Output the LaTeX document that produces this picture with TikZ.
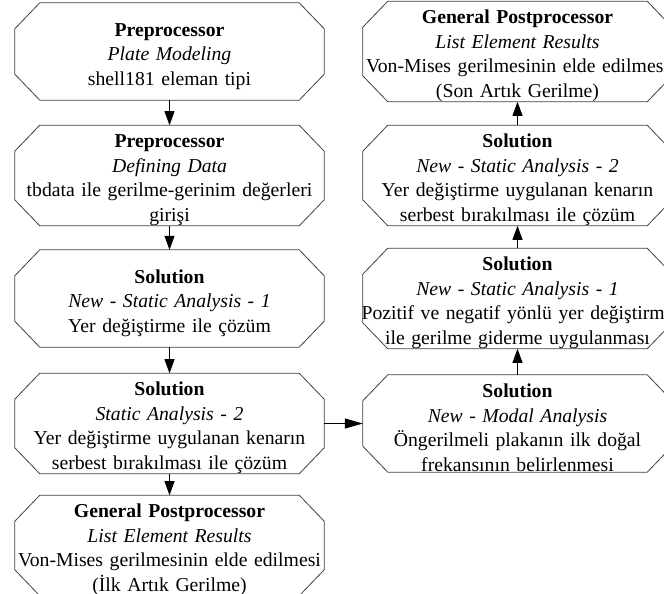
\documentclass[tikz,border=0pt]{standalone}
\usepackage{fontspec}
\setmainfont{Liberation Serif}
\usetikzlibrary{arrows.meta}
\newcommand{\bl}[1]{\makebox[309bp]{#1}}
\tikzset{
  octbox/.style={rectangle, minimum width=309bp, minimum height=97bp, inner sep=0pt,
    text width=309bp, align=center, font=\fontsize{19.7bp}{24.5bp}\selectfont,
    execute at begin node={\rule{0pt}{22.5bp}}},
  octline/.style={draw=black!75, line width=0.8bp},
  arr/.style={draw=black, line width=0.8bp, -{Triangle[length=14bp,width=10bp]}},
  harr/.style={draw=black, line width=0.8bp, -{Triangle[length=18bp,width=10bp]}}
}
\begin{document}
\begin{tikzpicture}[x=1bp,y=-1bp]
\useasboundingbox (0,0) rectangle (664,594);
\clip (0,0) rectangle (664,594);
\node[octbox] (b1) at (169.5,51.5) {\bl{\textbf{Preprocessor}}\\\bl{\textit{Plate Modeling}}\\\bl{shell181 eleman tipi}};
\node[octbox] (b2) at (169.5,175.5) {\bl{\textbf{Preprocessor}}\\\bl{\textit{Defining Data}}\\\bl{tbdata ile gerilme-gerinim değerleri}\\\bl{girişi}};
\node[octbox] (b3) at (169.5,298.5) {\bl{\textbf{Solution}}\\\bl{\textit{New} - \textit{Static Analysis} - \textit{1}}\\\bl{Yer değiştirme ile çözüm}};
\node[octbox] (b4) at (169.5,423.5) {\bl{\textbf{Solution}}\\\bl{\textit{Static Analysis} - \textit{2}}\\\bl{Yer değiştirme uygulanan kenarın}\\\bl{serbest bırakılması ile çözüm}};
\node[octbox] (b5) at (169.5,545.5) {\bl{\textbf{General Postprocessor}}\\\bl{\textit{List Element Results}}\\\bl{Von-Mises gerilmesinin elde edilmesi}\\\bl{(İlk Artık Gerilme)}};
\node[octbox] (r1) at (517.5,51.5) {\bl{\textbf{General Postprocessor}}\\\bl{\textit{List Element Results}}\\\bl{Von-Mises gerilmesinin elde edilmesi}\\\bl{(Son Artık Gerilme)}};
\node[octbox] (r2) at (517.5,175.5) {\bl{\textbf{Solution}}\\\bl{\textit{New} - \textit{Static Analysis} - \textit{2}}\\\bl{Yer değiştirme uygulanan kenarın}\\\bl{serbest bırakılması ile çözüm}};
\node[octbox] (r3) at (517.5,298.5) {\bl{\textbf{Solution}}\\\bl{\textit{New} - \textit{Static Analysis} - \textit{1}}\\\bl{Pozitif ve negatif yönlü yer değiştirme}\\\bl{ile gerilme giderme uygulanması}};
\node[octbox] (r4) at (517.5,423.5) {\bl{\textbf{Solution}}\\\bl{\textit{New} - \textit{Modal Analysis}}\\\bl{Öngerilmeli plakanın ilk doğal}\\\bl{frekansının belirlenmesi}};
\foreach \n in {b1,b2,b3,b4,b5,r1,r2,r3,r4}{
  \draw[octline] ([xshift=25bp]\n.north west) -- ([xshift=-25bp]\n.north east)
    -- ([yshift=-26bp]\n.north east) -- ([yshift=26bp]\n.south east)
    -- ([xshift=-25bp]\n.south east) -- ([xshift=25bp]\n.south west)
    -- ([yshift=26bp]\n.south west) -- ([yshift=-26bp]\n.north west) -- cycle;
}
\draw[arr] (b1) -- (b2);
\draw[arr] (b2) -- (b3);
\draw[arr] (b3) -- (b4);
\draw[arr] (b4) -- (b5);
\draw[harr] (b4) -- (r4);
\draw[arr] (r4) -- (r3);
\draw[arr] (r3) -- (r2);
\draw[arr] (r2) -- (r1);
\end{tikzpicture}
\end{document}
